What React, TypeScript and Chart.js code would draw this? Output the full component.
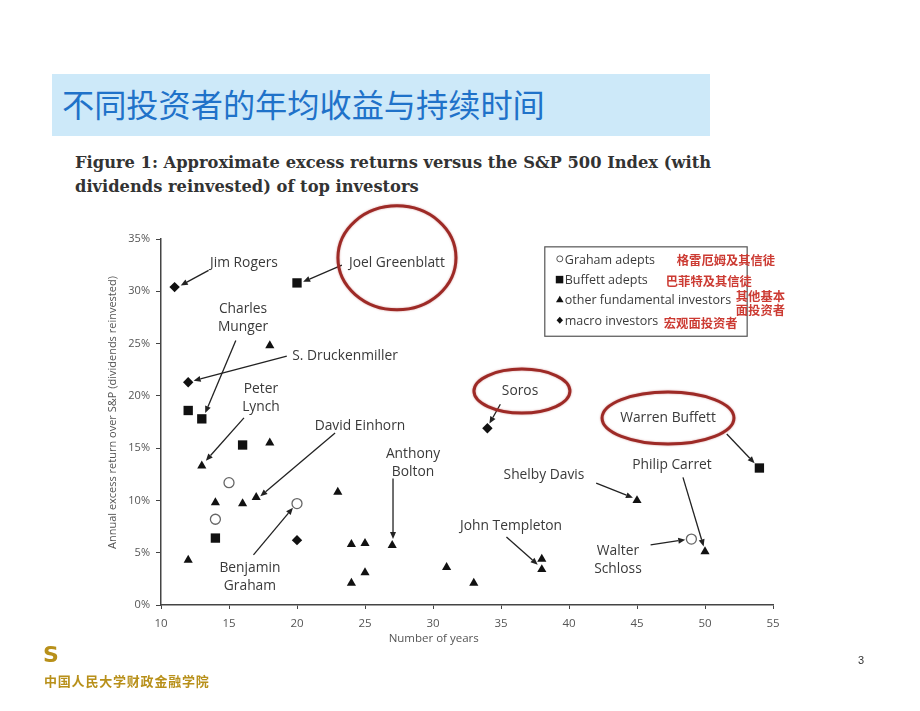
import React, { useEffect, useRef } from "react";
import { Chart, registerables } from "chart.js";
Chart.register(...registerables);

// ---- data (years held, annual excess return %) ----
const grahamYears = [15, 14, 20, 49];
const grahamReturns = [11.7, 8.2, 9.7, 6.3];
const buffettYears = [20, 12, 13, 16, 14, 54];
const buffettReturns = [30.8, 18.6, 17.8, 15.3, 6.4, 13.1];
const fundamentalYears = [18, 18, 13, 14, 16, 17, 23, 12, 24, 25, 27, 24, 25, 31, 33, 38, 38, 45, 50];
const fundamentalReturns = [24.8, 15.5, 13.3, 9.8, 9.7, 10.3, 10.8, 4.3, 5.8, 5.9, 5.7, 2.1, 3.1, 3.6, 2.1, 4.4, 3.4, 10.0, 5.1];
const macroYears = [11, 12, 20, 34];
const macroReturns = [30.4, 21.3, 6.2, 16.9];

const xTickValues = [10, 15, 20, 25, 30, 35, 40, 45, 50, 55];
const yTickValues = [0, 5, 10, 15, 20, 25, 30, 35];

const seriesNames = ["Graham adepts", "Buffett adepts", "other fundamental investors", "macro investors"];
const seriesNotes = [["格雷厄姆及其信徒"], ["巴菲特及其信徒"], ["其他基本", "面投资者"], ["宏观面投资者"]];

const xTitle = "Number of years";
const yTitle = "Annual excess return over S&P (dividends reinvested)";

// annotation labels: text, text anchor (data units), arrow from -> to (data units)
const labels = [
  { lines: ["Jim Rogers"], at: [16.1, 32.7], align: "center", from: [13.5, 32.0], to: [11.45, 30.55] },
  { lines: ["Joel Greenblatt"], at: [27.35, 32.7], align: "center", from: [23.3, 32.5], to: [20.45, 30.9] },
  { lines: ["Charles", "Munger"], at: [16.03, 27.45], align: "center", from: [15.5, 25.3], to: [13.25, 18.35] },
  { lines: ["S. Druckenmiller"], at: [19.65, 23.8], align: "left", from: [19.25, 23.8], to: [12.4, 21.45] },
  { lines: ["Peter", "Lynch"], at: [17.35, 19.8], align: "center", from: [16.1, 17.9], to: [13.3, 13.8] },
  { lines: ["David Einhorn"], at: [24.63, 17.12], align: "center", from: [22.8, 16.45], to: [17.3, 10.4] },
  { lines: ["Anthony", "Bolton"], at: [28.53, 13.58], align: "center", from: [27.06, 12.1], to: [27.06, 6.3] },
  { lines: ["Benjamin", "Graham"], at: [16.54, 2.68], align: "center", from: [16.8, 4.8], to: [19.7, 9.3] },
  { lines: ["Soros"], at: [36.4, 20.46], align: "center", from: [34.95, 19.2], to: [34.15, 17.35] },
  { lines: ["Warren Buffett"], at: [47.28, 17.88], align: "center", from: [51.6, 16.35], to: [53.65, 13.55] },
  { lines: ["Shelby Davis"], at: [38.16, 12.43], align: "center", from: [42.0, 11.65], to: [44.7, 10.25] },
  { lines: ["Philip Carret"], at: [47.57, 13.39], align: "center", from: [48.38, 12.2], to: [49.9, 5.6] },
  { lines: ["John Templeton"], at: [35.74, 7.55], align: "center", from: [35.4, 6.5], to: [37.7, 3.85] },
  { lines: ["Walter", "Schloss"], at: [43.6, 4.3], align: "center", from: [46.0, 5.75], to: [48.55, 6.25] },
];

// red highlight ellipses: centre and radii in data units
const highlights = [
  { c: [27.35, 33.2], r: [4.34, 4.97] },
  { c: [36.54, 20.46], r: [3.53, 2.1] },
  { c: [47.28, 17.88], r: [4.85, 2.49] },
];

const legendBox = { x0: 38.22, y0: 34.25, x1: 53.1, y1: 25.7 };

const LABEL_FONT = '13.8px "Open Sans"';
const INK = "#3a3a3a";

function drawArrow(ctx: CanvasRenderingContext2D, x1: number, y1: number, x2: number, y2: number) {
  ctx.save();
  ctx.strokeStyle = "#222";
  ctx.fillStyle = "#222";
  ctx.lineWidth = 1.3;
  const ang = Math.atan2(y2 - y1, x2 - x1);
  const len = 7;
  const bx = x2 - Math.cos(ang) * len;
  const by = y2 - Math.sin(ang) * len;
  ctx.beginPath();
  ctx.moveTo(x1, y1);
  ctx.lineTo(bx, by);
  ctx.stroke();
  ctx.beginPath();
  ctx.moveTo(x2, y2);
  ctx.lineTo(bx + Math.cos(ang + Math.PI / 2) * 3, by + Math.sin(ang + Math.PI / 2) * 3);
  ctx.lineTo(bx + Math.cos(ang - Math.PI / 2) * 3, by + Math.sin(ang - Math.PI / 2) * 3);
  ctx.closePath();
  ctx.fill();
  ctx.restore();
}

const annotationPlugin = {
  id: "annotations",
  afterDatasetsDraw(chart: any) {
    const ctx: CanvasRenderingContext2D = chart.ctx;
    const xs = chart.scales.x;
    const ys = chart.scales.y;
    const X = (v: number) => xs.getPixelForValue(v);
    const Y = (v: number) => ys.getPixelForValue(v);
    const sx = Math.abs(X(11) - X(10));
    const sy = Math.abs(Y(1) - Y(0));

    // axis titles
    ctx.save();
    ctx.fillStyle = "#555";
    ctx.font = '11.5px "Open Sans"';
    ctx.textAlign = "center";
    ctx.textBaseline = "middle";
    ctx.fillText(xTitle, X(30.05), 639);
    ctx.translate(113, Y(18.4));
    ctx.rotate(-Math.PI / 2);
    ctx.font = '11px "Open Sans"';
    ctx.fillText(yTitle, 0, 0);
    ctx.restore();

    // labels + arrows
    ctx.save();
    ctx.font = LABEL_FONT;
    ctx.fillStyle = INK;
    ctx.textBaseline = "middle";
    for (const l of labels) {
      ctx.textAlign = l.align as CanvasTextAlign;
      const cx = X(l.at[0]);
      const cy = Y(l.at[1]);
      const n = l.lines.length;
      l.lines.forEach((t, i) => {
        ctx.fillText(t, cx, cy + (i - (n - 1) / 2) * 18);
      });
      drawArrow(ctx, X(l.from[0]), Y(l.from[1]), X(l.to[0]), Y(l.to[1]));
    }
    ctx.restore();

    // red ellipses
    ctx.save();
    ctx.strokeStyle = "#9d2a26";
    ctx.lineWidth = 3;
    ctx.shadowColor = "rgba(170,40,40,0.5)";
    ctx.shadowBlur = 2;
    for (const h of highlights) {
      ctx.beginPath();
      ctx.ellipse(X(h.c[0]), Y(h.c[1]), h.r[0] * sx, h.r[1] * sy, 0, 0, Math.PI * 2);
      ctx.stroke();
    }
    ctx.restore();

    // legend
    ctx.save();
    const lx0 = X(legendBox.x0), ly0 = Y(legendBox.y0), lx1 = X(legendBox.x1), ly1 = Y(legendBox.y1);
    ctx.strokeStyle = "#555";
    ctx.lineWidth = 1.2;
    ctx.strokeRect(lx0, ly0, lx1 - lx0, ly1 - ly0);
    const rowY = [ly0 + 14, ly0 + 34, ly0 + 54, ly0 + 75];
    ctx.font = '12.5px "Open Sans"';
    ctx.textBaseline = "middle";
    ctx.textAlign = "left";
    seriesNames.forEach((name, i) => {
      const y = rowY[i];
      const mx = lx0 + 15;
      ctx.fillStyle = "#111";
      ctx.strokeStyle = "#555";
      ctx.lineWidth = 1;
      ctx.beginPath();
      if (i === 0) {
        ctx.arc(mx, y - 2, 3, 0, Math.PI * 2);
        ctx.stroke();
      } else if (i === 1) {
        ctx.fillRect(mx - 4, y - 5, 7.5, 7.5);
      } else if (i === 2) {
        ctx.moveTo(mx, y - 5);
        ctx.lineTo(mx + 3.8, y + 1.5);
        ctx.lineTo(mx - 3.8, y + 1.5);
        ctx.closePath();
        ctx.fill();
      } else {
        ctx.moveTo(mx, y - 5);
        ctx.lineTo(mx + 3.2, y - 1.5);
        ctx.lineTo(mx, y + 2);
        ctx.lineTo(mx - 3.2, y - 1.5);
        ctx.closePath();
        ctx.fill();
      }
      ctx.fillStyle = INK;
      ctx.fillText(name, lx0 + 20, y);
    });
    // red Chinese notes
    ctx.fillStyle = "#cc3b33";
    ctx.font = 'bold 12.3px "Noto Sans CJK SC"';
    const noteX = [lx0 + 132, lx0 + 121, lx0 + 191, lx0 + 119];
    const noteY = [[rowY[0] - 1], [rowY[1]], [rowY[2] - 5, rowY[2] + 9], [rowY[3] + 1]];
    seriesNotes.forEach((lines, i) => {
      lines.forEach((t, j) => ctx.fillText(t, noteX[i], noteY[i][j]));
    });
    ctx.restore();
  },
};

function toPoints(xs: number[], ys: number[]) {
  return xs.map((x, i) => ({ x, y: ys[i] }));
}

export default function App() {
  const ref = useRef<HTMLCanvasElement>(null);
  useEffect(() => {
    const chart = new Chart(ref.current!, {
      type: "scatter",
      data: {
        datasets: [
          {
            label: seriesNames[0],
            data: toPoints(grahamYears, grahamReturns),
            pointStyle: "circle",
            pointRadius: 5,
            backgroundColor: "#fff",
            borderColor: "#666",
            borderWidth: 1.3,
          },
          {
            label: seriesNames[1],
            data: toPoints(buffettYears, buffettReturns),
            pointStyle: "rect",
            pointRadius: 6.6,
            backgroundColor: "#111",
            borderColor: "#111",
            borderWidth: 0,
          },
          {
            label: seriesNames[2],
            data: toPoints(fundamentalYears, fundamentalReturns),
            pointStyle: "triangle",
            pointRadius: 5.3,
            backgroundColor: "#111",
            borderColor: "#111",
            borderWidth: 0,
          },
          {
            label: seriesNames[3],
            data: toPoints(macroYears, macroReturns),
            pointStyle: "rectRot",
            pointRadius: 5.2,
            backgroundColor: "#111",
            borderColor: "#111",
            borderWidth: 0,
          },
        ],
      },
      options: {
        animation: false,
        responsive: false,
        devicePixelRatio: 1,
        layout: { padding: { left: 100, right: 147, top: 239, bottom: 61 } },
        plugins: { legend: { display: false }, tooltip: { enabled: false } },
        scales: {
          x: {
            type: "linear",
            min: 10,
            max: 55,
            afterFit: (s: any) => {
              s.height = 45;
            },
            afterBuildTicks: (s: any) => {
              s.ticks = xTickValues.map((v) => ({ value: v }));
            },
            border: { display: true, color: "#444", width: 1.5 },
            grid: { display: true, drawOnChartArea: false, drawTicks: true, tickLength: 4, color: "#444" },
            ticks: { color: "#555", font: { family: "Open Sans", size: 11.5 }, padding: 8 },
          },
          y: {
            type: "linear",
            min: 0,
            max: 35,
            afterFit: (s: any) => {
              s.width = 61;
            },
            afterBuildTicks: (s: any) => {
              s.ticks = yTickValues.map((v) => ({ value: v }));
            },
            border: { display: true, color: "#444", width: 1.5 },
            grid: { display: true, drawOnChartArea: false, drawTicks: true, tickLength: 5, color: "#444" },
            ticks: {
              color: "#555",
              font: { family: "Open Sans", size: 11 },
              padding: 6,
              callback: (v: any) => v + "%",
            },
          },
        },
      },
      plugins: [annotationPlugin],
    });
    return () => chart.destroy();
  }, []);

  return (
    <div style={{ position: "fixed", left: 0, top: 0, width: 920, height: 711, background: "#fff", overflow: "hidden" }}>
      <div style={{ position: "absolute", left: 52, top: 74, width: 658, height: 62, background: "#cde9f9" }} />
      <div
        style={{
          position: "absolute",
          left: 62,
          top: 74,
          height: 62,
          lineHeight: "58px",
          fontFamily: '"Noto Sans CJK SC"',
          fontSize: 32.2,
          color: "#1f72c9",
          whiteSpace: "nowrap",
        }}
      >
        不同投资者的年均收益与持续时间
      </div>
      <div
        style={{
          position: "absolute",
          left: 75,
          top: 151,
          fontFamily: '"DejaVu Serif"',
          fontWeight: "bold",
          fontSize: 16.3,
          lineHeight: "24px",
          color: "#333",
          whiteSpace: "nowrap",
        }}
      >
        Figure 1: Approximate excess returns versus the S&amp;P 500 Index (with
        <br />
        dividends reinvested) of top investors
      </div>
      <canvas ref={ref} width={920} height={711} style={{ position: "absolute", left: 0, top: 0, width: 920, height: 711 }} />
      <div
        style={{
          position: "absolute",
          left: 43,
          top: 643,
          fontFamily: '"DejaVu Sans"',
          fontWeight: "bold",
          fontSize: 22,
          lineHeight: "24px",
          color: "#b8901a",
        }}
      >
        S
      </div>
      <div
        style={{
          position: "absolute",
          left: 44,
          top: 673,
          fontFamily: '"Noto Sans CJK SC"',
          fontWeight: "bold",
          fontSize: 13,
          lineHeight: "16px",
          letterSpacing: "0.8px",
          color: "#b8901a",
          whiteSpace: "nowrap",
        }}
      >
        中国人民大学财政金融学院
      </div>
      <div
        style={{
          position: "absolute",
          left: 858,
          top: 652,
          fontFamily: '"Liberation Sans"',
          fontSize: 11,
          lineHeight: "16px",
          color: "#333",
        }}
      >
        3
      </div>
    </div>
  );
}
